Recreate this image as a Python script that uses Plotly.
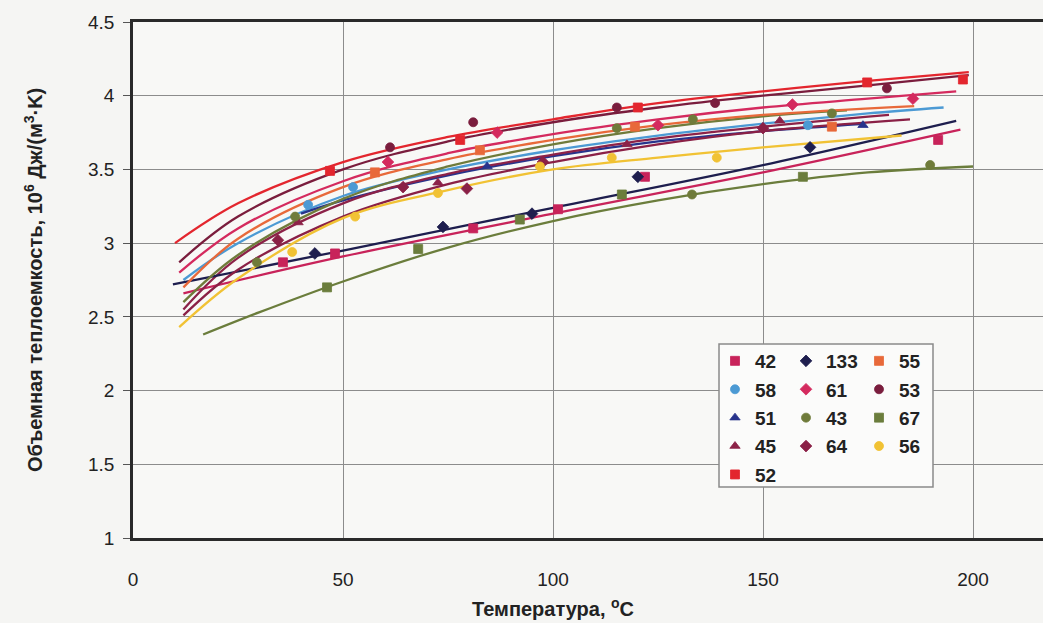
import plotly.graph_objects as go

# ---- data: temperature (°C) vs volumetric heat capacity (10^6 J/(m^3·K)) ----
names = ["42", "58", "51", "45", "52", "133", "61", "43", "64", "55", "53", "67", "56"]

colors = {
    "42": "#C8235A", "58": "#4C9AD4", "51": "#27338C", "45": "#8C2248", "52": "#E3262E",
    "133": "#1E1E4E", "61": "#D42A5E", "43": "#6F7B3A", "64": "#8A2046",
    "55": "#E8693A", "53": "#7A1D3D", "67": "#6B7D3C", "56": "#F1C234",
}
symbols = {
    "42": "square", "58": "circle", "51": "triangle-up", "45": "triangle-up", "52": "square",
    "133": "diamond", "61": "diamond", "43": "circle", "64": "diamond",
    "55": "square", "53": "circle", "67": "square", "56": "circle",
}

# measured points
pts_x = {
    "52": [46.9, 77.9, 120.2, 174.8, 197.6],
    "53": [61.2, 81.0, 115.2, 138.6, 179.5],
    "61": [60.7, 86.7, 125.0, 157.0, 185.7],
    "55": [57.6, 82.6, 119.5, 166.4],
    "58": [41.7, 52.4, 160.7],
    "51": [84.3, 173.8],
    "43": [29.5, 38.6, 115.2, 133.3, 166.4, 133.1, 189.8],
    "45": [39.3, 72.6, 117.6, 154.0],
    "64": [34.5, 64.3, 79.5, 97.6, 150.0],
    "56": [37.9, 52.9, 72.6, 96.9, 114.0, 139.0],
    "133": [43.3, 73.8, 95.0, 120.2, 161.2],
    "42": [35.7, 48.1, 81.0, 101.2, 121.9, 191.7],
    "67": [46.2, 67.9, 92.1, 116.4, 159.5],
}
pts_y = {
    "52": [3.49, 3.70, 3.92, 4.09, 4.11],
    "53": [3.65, 3.82, 3.92, 3.95, 4.05],
    "61": [3.55, 3.75, 3.80, 3.94, 3.98],
    "55": [3.48, 3.63, 3.79, 3.79],
    "58": [3.26, 3.38, 3.80],
    "51": [3.52, 3.80],
    "43": [2.87, 3.18, 3.78, 3.84, 3.88, 3.33, 3.53],
    "45": [3.14, 3.41, 3.67, 3.83],
    "64": [3.02, 3.38, 3.37, 3.55, 3.78],
    "56": [2.94, 3.18, 3.34, 3.52, 3.58, 3.58],
    "133": [2.93, 3.11, 3.20, 3.45, 3.65],
    "42": [2.87, 2.93, 3.10, 3.23, 3.45, 3.70],
    "67": [2.70, 2.96, 3.16, 3.33, 3.45],
}

# trend lines
trend_x = {
    "52": [10, 25, 50, 75, 100, 125, 150, 175, 199],
    "53": [11, 25, 50, 75, 100, 125, 150, 175, 199],
    "61": [11, 25, 50, 75, 100, 125, 150, 175, 196],
    "55": [12, 25, 50, 75, 100, 125, 150, 186],
    "58": [12, 25, 50, 75, 100, 125, 150, 175, 193],
    "51": [40, 50, 75, 100, 125, 150, 174],
    "43": [12, 25, 50, 75, 100, 125, 150, 170],
    "45": [12, 25, 50, 75, 100, 125, 150, 180],
    "64": [12, 25, 50, 75, 100, 125, 150, 185],
    "56": [11, 25, 50, 75, 100, 125, 150, 183],
    "133": [9.5, 50, 100, 150, 196],
    "42": [12, 50, 100, 150, 197],
    "67": [16.7, 30, 50, 75, 100, 125, 150, 175, 200],
}
trend_y = {
    "52": [3.00, 3.27, 3.55, 3.72, 3.84, 3.95, 4.03, 4.10, 4.16],
    "53": [2.87, 3.18, 3.50, 3.69, 3.82, 3.92, 4.00, 4.07, 4.14],
    "61": [2.80, 3.10, 3.42, 3.61, 3.74, 3.84, 3.92, 3.98, 4.03],
    "55": [2.70, 3.03, 3.38, 3.57, 3.70, 3.80, 3.87, 3.93],
    "58": [2.75, 3.00, 3.32, 3.50, 3.63, 3.73, 3.81, 3.88, 3.92],
    "51": [3.20, 3.29, 3.46, 3.59, 3.69, 3.76, 3.81],
    "43": [2.60, 2.92, 3.30, 3.52, 3.67, 3.78, 3.86, 3.90],
    "45": [2.55, 2.90, 3.27, 3.47, 3.60, 3.71, 3.79, 3.87],
    "64": [2.51, 2.82, 3.18, 3.40, 3.55, 3.67, 3.76, 3.84],
    "56": [2.43, 2.76, 3.17, 3.36, 3.50, 3.58, 3.65, 3.73],
    "133": [2.72, 2.95, 3.24, 3.53, 3.83],
    "42": [2.66, 2.91, 3.20, 3.48, 3.77],
    "67": [2.38, 2.53, 2.74, 2.97, 3.15, 3.29, 3.40, 3.48, 3.52],
}

x_ticks = [0, 50, 100, 150, 200]
y_ticks = [1, 1.5, 2, 2.5, 3, 3.5, 4, 4.5]

# legend columns (three stacked legends side by side)
legend_cols = [["42", "58", "51", "45", "52"], ["133", "61", "43", "64"], ["55", "53", "67", "56"]]

FONT = "Liberation Sans, Arial, sans-serif"
W, H = 1043, 623
L, T, B = 133, 22, 85
PW, PH = W - L, H - T - B


def px_to_paper_x(px):
    return (px - L) / PW


def px_to_paper_y(py):
    return (T + PH - py) / PH


fig = go.Figure()

# trend lines first, markers above
for n in names:
    fig.add_trace(go.Scatter(
        x=trend_x[n], y=trend_y[n], mode="lines",
        line=dict(color=colors[n], width=2.3, shape="spline", smoothing=1.0),
        showlegend=False, hoverinfo="skip",
    ))

legend_of = {}
for i, col in enumerate(legend_cols):
    for n in col:
        legend_of[n] = "legend" if i == 0 else f"legend{i + 1}"

for n in names:
    fig.add_trace(go.Scatter(
        x=pts_x[n], y=pts_y[n], mode="markers", name=n,
        marker=dict(color=colors[n], symbol=symbols[n], size=9,
                    line=dict(width=0.8, color=colors[n])),
        legend=legend_of[n], legendgroup=n,
    ))

# legend frame
fig.add_shape(type="rect", xref="paper", yref="paper",
              x0=px_to_paper_x(719), x1=px_to_paper_x(933),
              y0=px_to_paper_y(487), y1=px_to_paper_y(344),
              line=dict(color="#8a8a8a", width=1.5), fillcolor="#fbfbfa", layer="above")

leg_common = dict(
    bgcolor="rgba(0,0,0,0)", borderwidth=0, tracegroupgap=0.7,
    font=dict(family=FONT, size=19, color="#222222", weight="bold"),
    xanchor="left", yanchor="top", orientation="v", itemsizing="trace",
)
col_marker_px = [735, 806, 879]
layout_legends = {}
for i, mx in enumerate(col_marker_px):
    key = "legend" if i == 0 else f"legend{i + 1}"
    layout_legends[key] = dict(leg_common, x=px_to_paper_x(mx - 20), y=px_to_paper_y(342))

fig.update_layout(
    width=W, height=H,
    margin=dict(l=L, r=0, t=T, b=B),
    paper_bgcolor="#f5f5f3", plot_bgcolor="#f8f8f6",
    font=dict(family=FONT, size=19, color="#222222"),
    **layout_legends,
)

fig.update_xaxes(
    range=[0, PW / 4.2], tickvals=x_ticks, ticktext=[str(v) for v in x_ticks],
    showgrid=True, gridcolor="#8c8c8c", gridwidth=1,
    showline=True, linecolor="#2a2a2a", linewidth=2.5, mirror=True,
    ticks="", ticklabelstandoff=22, zeroline=False,
    tickfont=dict(family=FONT, size=19, color="#222222"),
)
fig.update_yaxes(
    range=[1, 4.5], tickvals=y_ticks, ticktext=[f"{v:g}" for v in y_ticks],
    showgrid=True, gridcolor="#8c8c8c", gridwidth=1,
    showline=True, linecolor="#2a2a2a", linewidth=2.5, mirror=False,
    ticks="outside", ticklen=7, tickcolor="#555555", ticklabelstandoff=5, zeroline=False,
    tickfont=dict(family=FONT, size=19, color="#222222"),
)

# axis titles
fig.add_annotation(
    text="Температура, <sup>o</sup>C", xref="x", yref="paper",
    x=100, y=px_to_paper_y(607), xanchor="center", yanchor="middle", showarrow=False,
    font=dict(family=FONT, size=20, color="#222222", weight="bold"),
)
fig.add_annotation(
    text="Объемная теплоемкость, 10<sup>6</sup> Дж/(м<sup>3</sup>·K)",
    xref="paper", yref="paper", x=px_to_paper_x(33), y=px_to_paper_y(280),
    xanchor="center", yanchor="middle", textangle=-90, showarrow=False,
    font=dict(family=FONT, size=20, color="#222222", weight="bold"),
)

fig.write_html("out.html")
